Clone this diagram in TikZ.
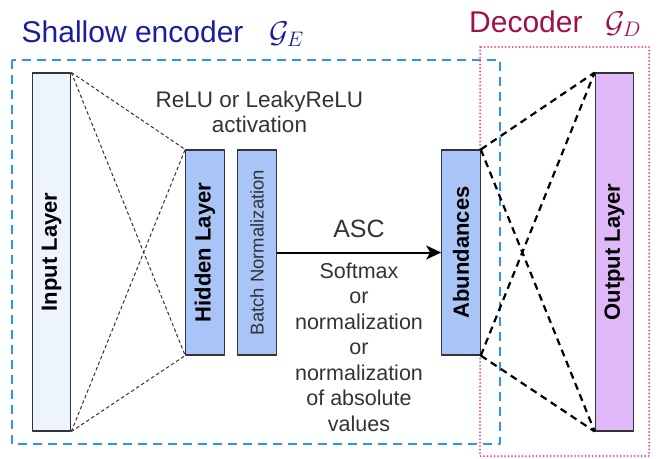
\RequirePackage{fix-cm}
\documentclass[tikz,border=0pt]{standalone}
\usepackage{fontspec}
\setmainfont{Liberation Sans}
\usepackage{graphicx}
\usetikzlibrary{arrows.meta,positioning}
\definecolor{encblue}{HTML}{2B95F5}
\definecolor{decpink}{HTML}{FF3399}
\definecolor{enctext}{HTML}{1C1CA0}
\definecolor{dectext}{HTML}{A0104F}
\definecolor{infill}{HTML}{EEF4FE}
\definecolor{hidfill}{HTML}{A9C4F7}
\definecolor{outfill}{HTML}{DFB9F7}
\definecolor{txtgray}{HTML}{333333}
\begin{document}
\begin{tikzpicture}[x=1pt, y=-1pt, line join=round, >={Stealth[length=15pt,width=14pt,inset=4pt]},
	layer/.style={draw=black!80, line width=1.1pt, inner sep=0pt, font=\fontsize{22}{26}\selectfont\bfseries},
	enc/.style={black!80, line width=1pt, dash pattern=on 3.5pt off 2.5pt},
	dec/.style={black, line width=2.2pt, dash pattern=on 7pt off 5pt},
	title/.style={anchor=base west, inner sep=0pt, font=\fontsize{30}{34}\selectfont}]
	\def\wl{38.5}
	\def\hs{205}
	\def\hl{358}
	\useasboundingbox (0,0) rectangle (664,458);
	\draw[encblue, line width=2.4pt, dash pattern=on 9pt off 6pt] (12,60) rectangle (500,444);
	\draw[decpink, line width=2pt, line cap=round, dash pattern=on 0pt off 3.5pt] (480,47) rectangle (649,456);
	\node[title, text=enctext] (enctitle) at (21.5,42) {Shallow encoder\hspace{0.85em}$\mathcal{G}_E$};
	\node[title, text=dectext] (dectitle) at (469,32) {Decoder\hspace{0.75em}$\mathcal{G}_D$};
	\node[layer, fill=infill, minimum width=\wl, minimum height=\hl] (inlayer) at (51.5,252) {\rotatebox{90}{Input Layer}};
	\node[layer, fill=hidfill, minimum width=\wl, minimum height=\hs] (hidden) at (205,252.5) {\rotatebox{90}{Hidden Layer}};
	\node[layer, fill=hidfill, minimum width=\wl, minimum height=\hs, font=\fontsize{18.5}{22}\selectfont, text=txtgray] (batchnorm) at (257,252.5) {\rotatebox{90}{Batch Normalization}};
	\node[layer, fill=hidfill, minimum width=\wl, minimum height=\hs] (abund) at (461,252.5) {\rotatebox{90}{Abundances}};
	\node[layer, fill=outfill, minimum width=\wl, minimum height=\hl] (outlayer) at (614.5,252) {\rotatebox{90}{Output Layer}};
	\node[align=center, font=\fontsize{22.5}{25}\selectfont, text=txtgray] (act) at (259.5,112) {ReLU or LeakyReLU\\activation};
	\foreach \a in {north east,south east}
	\foreach \b in {north west,south west}{
		\draw[enc] (inlayer.\a) -- (hidden.\b);
		\draw[dec] (abund.\a) -- (outlayer.\b);
	}
	\draw[->, line width=2pt] (batchnorm) -- (abund)
	node[midway, above=14pt, inner sep=0pt, font=\fontsize{25}{28}\selectfont, text=txtgray] (asc) {ASC}
	node[midway, below=9pt, inner sep=0pt, align=center, font=\fontsize{21.5}{25.5}\selectfont, text=txtgray] (norm) {Softmax\\or\\normalization\\or\\normalization\\of absolute\\values};
\end{tikzpicture}
\end{document}
